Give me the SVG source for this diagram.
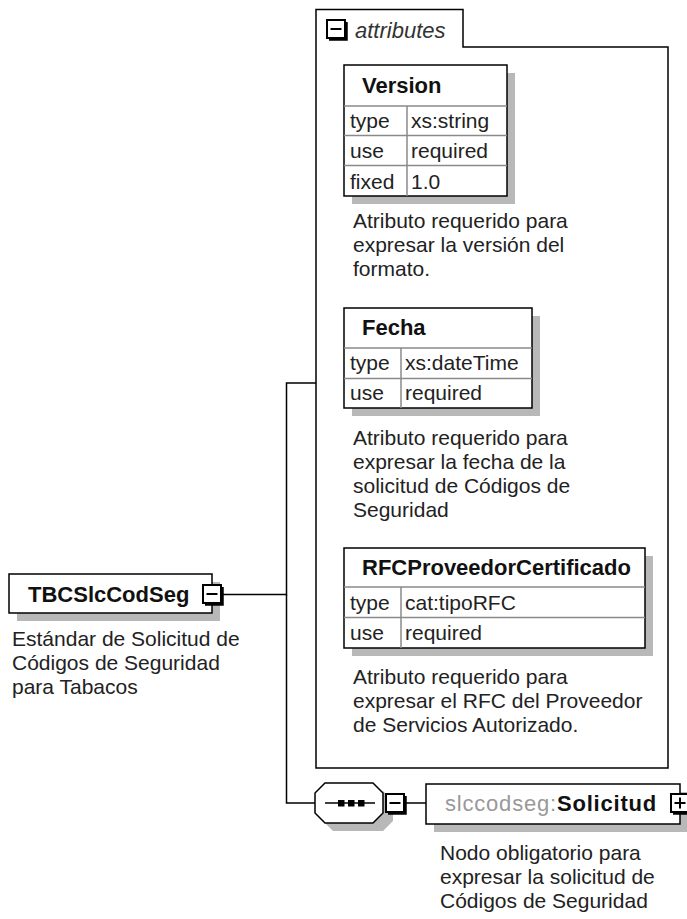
<svg xmlns="http://www.w3.org/2000/svg" width="687" height="919" viewBox="0 0 687 919">
<style>
.t{font-family:"Liberation Sans",Arial,sans-serif;font-size:21px;fill:#222}
.h{font-family:"Liberation Sans",Arial,sans-serif;font-size:22px;font-weight:bold;fill:#111}
.i{font-family:"Liberation Sans",Arial,sans-serif;font-size:22px;font-style:italic;fill:#333}
.box{fill:#fff;stroke:#000;stroke-width:1.5}
.sh{fill:#b8b8b8}
.ln{stroke:#000;stroke-width:1.5;fill:none}
.gl{stroke:#8a8a8a;stroke-width:1.5}
.ic{fill:#fff;stroke:#000;stroke-width:2}
</style>
<defs>
<g id="minus">
<rect class="ic" x="1" y="1" width="18" height="18"/>
<path d="M20.5,3 V20.5 H3" stroke="#000" stroke-width="2.5" fill="none"/>
<path d="M4.5,10 H15.5" stroke="#000" stroke-width="2"/>
</g>
<g id="plus">
<rect class="ic" x="1" y="1" width="18" height="18"/>
<path d="M20.5,3 V20.5 H3" stroke="#000" stroke-width="2.5" fill="none"/>
<path d="M4.5,10 H15.5 M10,4.5 V15.5" stroke="#000" stroke-width="2"/>
</g>
</defs>

<g id="connectors">
<path class="ln" d="M223,594.5 H286.5 V383 H316"/>
<path class="ln" d="M286.5,594.5 V803 H315"/>
<path class="ln" d="M406,803 H426"/>
</g>

<g id="attributes">
<path class="ln" d="M316,768 V9.5 H463 V47 H668 V768 Z"/>
<use href="#minus" x="326" y="19"/>
<text class="i" x="355" y="38">attributes</text>
</g>

<g id="Version">
<rect class="sh" x="352" y="73" width="163" height="131"/>
<rect class="box" x="344" y="65" width="163" height="131"/>
<path class="gl" d="M344,106 H507 M344,135.5 H507 M344,165.5 H507 M407,106 V196"/>
<text class="h" x="362" y="93">Version</text>
<text class="t" x="350" y="128">type</text>
<text class="t" x="411" y="128">xs:string</text>
<text class="t" x="350" y="158">use</text>
<text class="t" x="411" y="158">required</text>
<text class="t" x="350" y="189">fixed</text>
<text class="t" x="411" y="189">1.0</text>
<text class="t" x="353" y="228">Atributo requerido para</text>
<text class="t" x="353" y="252">expresar la versión del</text>
<text class="t" x="353" y="276">formato.</text>
</g>

<g id="Fecha">
<rect class="sh" x="352" y="316" width="188" height="100"/>
<rect class="box" x="344" y="308" width="188" height="100"/>
<path class="gl" d="M344,348 H532 M344,378.5 H532 M401,348 V408"/>
<text class="h" x="362" y="335">Fecha</text>
<text class="t" x="350" y="370">type</text>
<text class="t" x="405" y="370">xs:dateTime</text>
<text class="t" x="350" y="400">use</text>
<text class="t" x="405" y="400">required</text>
<text class="t" x="353" y="445">Atributo requerido para</text>
<text class="t" x="353" y="469">expresar la fecha de la</text>
<text class="t" x="353" y="493">solicitud de Códigos de</text>
<text class="t" x="353" y="517">Seguridad</text>
</g>

<g id="RFCProveedorCertificado">
<rect class="sh" x="352" y="556" width="301" height="100"/>
<rect class="box" x="344" y="548" width="301" height="100"/>
<path class="gl" d="M344,587 H645 M344,617.5 H645 M401,587 V648"/>
<text class="h" x="362" y="575">RFCProveedorCertificado</text>
<text class="t" x="350" y="610">type</text>
<text class="t" x="405" y="610">cat:tipoRFC</text>
<text class="t" x="350" y="640">use</text>
<text class="t" x="405" y="640">required</text>
<text class="t" x="353" y="684">Atributo requerido para</text>
<text class="t" x="353" y="708">expresar el RFC del Proveedor</text>
<text class="t" x="353" y="732">de Servicios Autorizado.</text>
</g>

<g id="TBCSlcCodSeg">
<rect class="sh" x="17" y="582" width="203" height="39"/>
<rect class="box" x="9" y="574" width="203" height="39"/>
<text class="h" x="28" y="602">TBCSlcCodSeg</text>
<use href="#minus" x="202" y="584"/>
<text class="t" x="12" y="646">Estándar de Solicitud de</text>
<text class="t" x="12" y="670">Códigos de Seguridad</text>
<text class="t" x="12" y="694">para Tabacos</text>
</g>

<g id="sequence">
<path class="sh" d="M333,791 H383 L393,801 V821 L383,831 H333 L323,821 V801 Z"/>
<path d="M325,783 H373 L383,793 V813 L373,823 H325 L315,813 V793 Z" fill="#fff" stroke="#000" stroke-width="1.5"/>
<path class="ln" d="M325,803 H375"/>
<rect x="338" y="800" width="6.5" height="6.5" fill="#000"/>
<rect x="348" y="800" width="6.5" height="6.5" fill="#000"/>
<rect x="358" y="800" width="6.5" height="6.5" fill="#000"/>
<use href="#minus" x="385" y="793"/>
</g>

<g id="Solicitud">
<rect class="sh" x="434" y="792" width="254" height="40"/>
<rect class="box" x="426" y="784" width="254" height="40"/>
<text class="h" x="445" y="811" letter-spacing="0.8"><tspan font-weight="normal" fill="#999">slccodseg:</tspan>Solicitud</text>
<use href="#plus" x="670" y="793"/>
<text class="t" x="440" y="860">Nodo obligatorio para</text>
<text class="t" x="440" y="884">expresar la solicitud de</text>
<text class="t" x="440" y="908">Códigos de Seguridad</text>
</g>
</svg>
